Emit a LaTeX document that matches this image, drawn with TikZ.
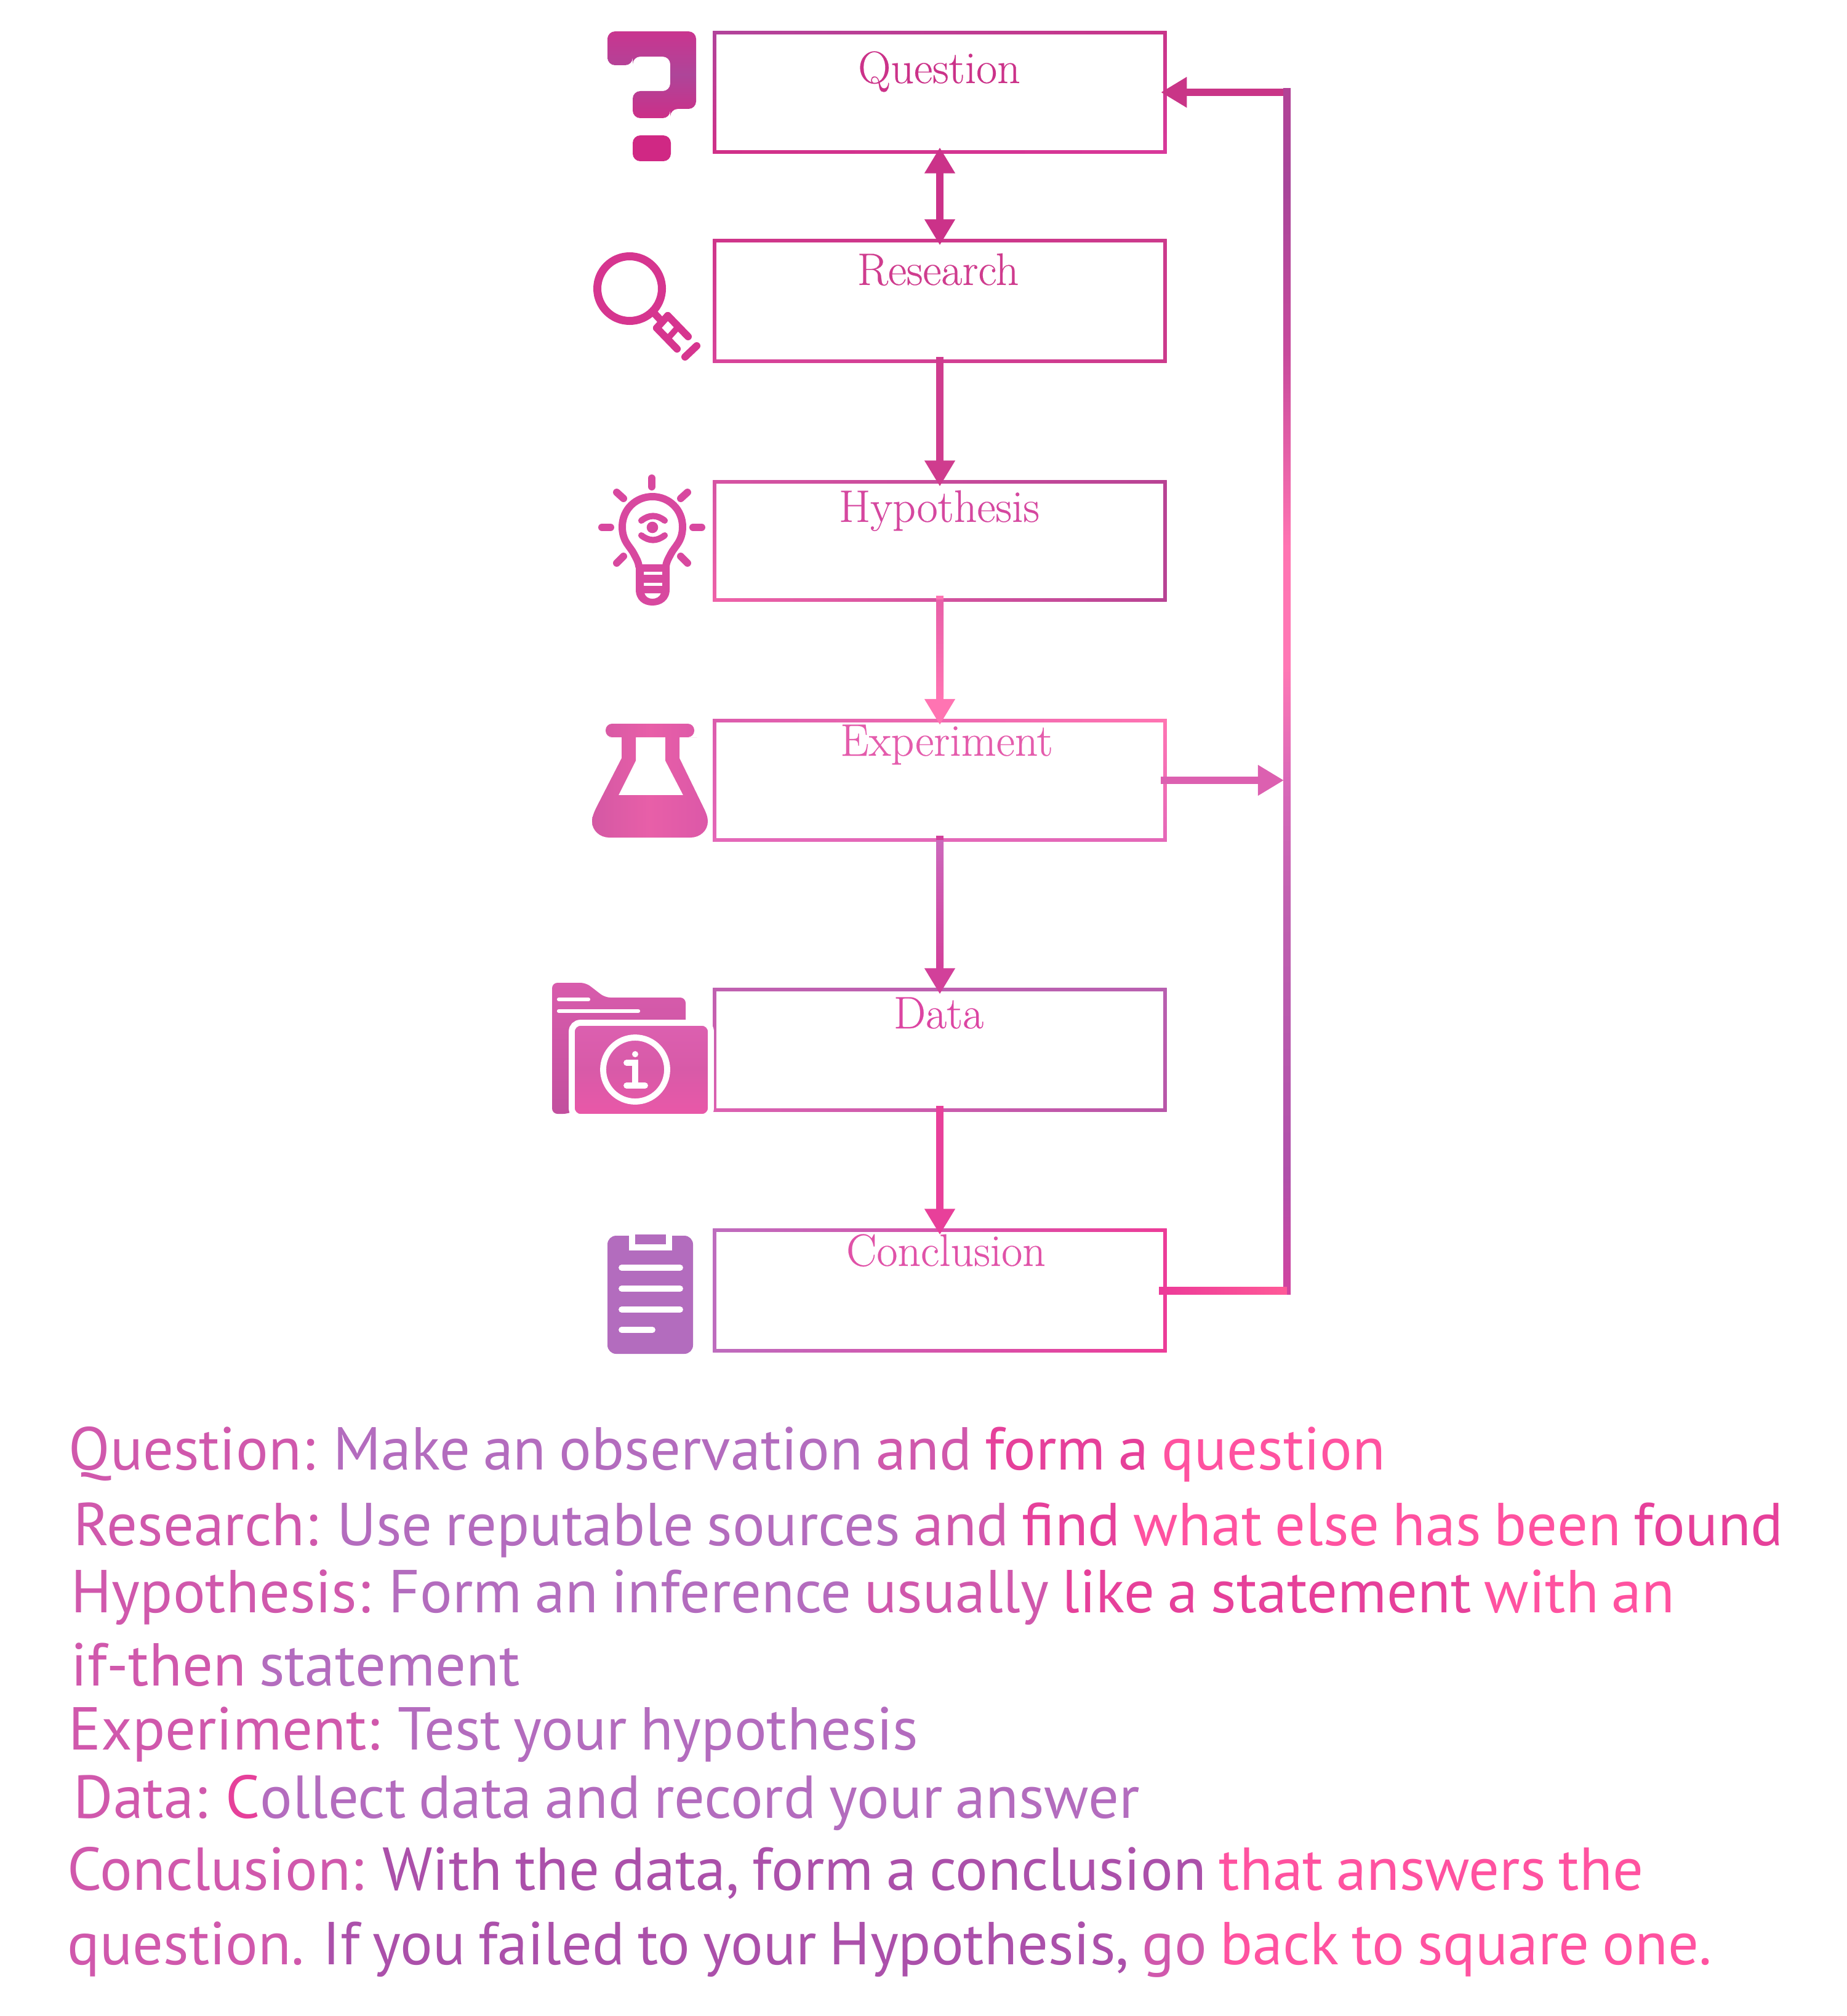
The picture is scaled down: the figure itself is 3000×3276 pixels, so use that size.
\documentclass[tikz,border=0pt]{standalone}
\usepackage{fontspec}
\newfontfamily\notefont[WordSpace=0.8]{PT Sans}
\newfontfamily\titlefont[FakeBold=0.3]{Latin Modern Roman}
\usetikzlibrary{arrows.meta,calc}

\definecolor{notemauve}{HTML}{B36CBE}
\definecolor{notedusk}{HTML}{AB50AA}
\definecolor{noteorchid}{HTML}{D058AC}
\definecolor{notemagenta}{HTML}{E6409A}
\definecolor{notepink}{HTML}{FF52A0}
\definecolor{loopcol}{HTML}{C93587}
\definecolor{questioncol}{HTML}{CB3289}
\definecolor{researchcol}{HTML}{CF3C8E}
\definecolor{hypothesiscol}{HTML}{D5479F}
\definecolor{experimentcol}{HTML}{E45CAC}
\definecolor{datacol}{HTML}{DC45A2}
\definecolor{conclusioncol}{HTML}{E052A8}
\definecolor{lightpink}{HTML}{FF74B2}
\definecolor{midpink}{HTML}{E85FA8}
\definecolor{datapink}{HTML}{D2409A}
\definecolor{paleorchid}{HTML}{CC68BC}
\definecolor{hotpink}{HTML}{E8409A}
\definecolor{sideorchid}{HTML}{DC60B0}
\definecolor{hotstart}{HTML}{EC3A98}
\definecolor{hotend}{HTML}{FF5A98}
\definecolor{marktop}{HTML}{C9358F}
\definecolor{markmid}{HTML}{AE4599}
\definecolor{markend}{HTML}{CC2F88}
\definecolor{markdot}{HTML}{D02884}
\definecolor{lenscol}{HTML}{D6358F}
\definecolor{bulbcol}{HTML}{D8489F}
\definecolor{flaskleft}{HTML}{D458A4}
\definecolor{flaskright}{HTML}{DC58A8}
\definecolor{foldertop}{HTML}{D85CAC}
\definecolor{folderend}{HTML}{C24F9E}
\definecolor{frontmid}{HTML}{D85AA8}
\definecolor{frontend}{HTML}{EA58A8}

\pgfdeclareverticalshading{feedbackfade}{100bp}{
  rgb(0bp)=(1,.314,.565);
  rgb(15bp)=(.973,.263,.604);
  rgb(23bp)=(.878,.243,.612);
  rgb(30bp)=(.69,.314,.667);
  rgb(41bp)=(.753,.376,.69);
  rgb(46bp)=(.847,.408,.722);
  rgb(51bp)=(1,.471,.71);
  rgb(56bp)=(1,.455,.698);
  rgb(64bp)=(.784,.29,.612);
  rgb(71bp)=(.659,.271,.604);
  rgb(85bp)=(.8,.227,.549);
  rgb(100bp)=(.788,.208,.529)}

\newcommand{\gradframe}[5]{
  \definecolor{frametl}{HTML}{#2}\definecolor{frametr}{HTML}{#3}
  \definecolor{framebl}{HTML}{#4}\definecolor{framebr}{HTML}{#5}
  \shade[top color=frametl,bottom color=framebl] ($(#1.north west)+(-2.5,-2.5)$) rectangle ($(#1.south west)+(2.5,2.5)$);
  \shade[top color=frametr,bottom color=framebr] ($(#1.north east)+(-2.5,-2.5)$) rectangle ($(#1.south east)+(2.5,2.5)$);
  \shade[left color=frametl,right color=frametr] ($(#1.north west)+(-2.5,-2.5)$) rectangle ($(#1.north east)+(2.5,2.5)$);
  \shade[left color=framebl,right color=framebr] ($(#1.south west)+(-2.5,-2.5)$) rectangle ($(#1.south east)+(2.5,2.5)$);
}

\begin{document}
\begin{tikzpicture}[
    x=0.01cm, y=-0.01cm,
    stepbox/.style={minimum width=7.32cm, line width=1.4pt, inner sep=0pt, outer sep=0pt},
    boxlabel/.style={anchor=base, inner sep=0pt, font=\titlefont\fontsize{21}{25}\selectfont},
    flow/.style={line width=3.3pt, -{Triangle[width=13.4pt,length=12pt]}, shorten >=-2pt, shorten <=-2pt},
    note/.style={anchor=base west, inner sep=0pt, font=\notefont\fontsize{28}{34}\selectfont},
    icontick/.style={line width=3.4pt, line cap=round},
    whitetick/.style={white, line width=2.8pt, line cap=round},
]
\useasboundingbox (0,0) rectangle (3000,3276);

% --- Boxes ---
\node[stepbox, draw=questioncol, minimum height=1.93cm] (question) at (1527,150) {};
\node[stepbox, draw=researchcol, minimum height=1.95cm] (research) at (1527,489) {};
\node[stepbox, draw=hypothesiscol, minimum height=1.91cm] (hypothesis) at (1527,879) {};
\node[stepbox, draw=experimentcol, minimum height=1.94cm] (experiment) at (1527,1268) {};
\node[stepbox, draw=datacol, minimum height=1.95cm] (datastep) at (1527,1706) {};
\node[stepbox, draw=conclusioncol, minimum height=1.95cm] (conclusion) at (1527,2097) {};

\gradframe{question}{B2439B}{C9358A}{D03088}{D8389A}
\gradframe{research}{CF358A}{CC3A8C}{D8449A}{CC3A8C}
\gradframe{hypothesis}{D654A3}{B84394}{EE62A8}{B84394}
\gradframe{experiment}{DC5CAD}{FF74B2}{E468B8}{E468B8}
\gradframe{datastep}{C060B0}{B860B0}{DC60B0}{B856A8}
\gradframe{conclusion}{BE6CBE}{EC3C98}{BE6CBE}{EC3C98}

% --- Box titles ---
\node[boxlabel, text=questioncol] (questionlabel) at (1526,135) {Question};
\node[boxlabel, text=researchcol] (researchlabel) at (1524,463) {Research};
\node[boxlabel, text=hypothesiscol] (hypothesislabel) at (1526,848) {Hypothesis};
\node[boxlabel, text=experimentcol] (experimentlabel) at (1538,1228) {Experiment};
\node[boxlabel, text=datacol] (datalabel) at (1525,1671) {Data};
\node[boxlabel, text=conclusioncol] (conclusionlabel) at (1537,2057) {Conclusion};

% --- Arrows down the column ---
\draw[flow, {Triangle[width=13.4pt,length=12pt]}-{Triangle[width=13.4pt,length=12pt]}, questioncol] (question.south) -- (research.north);
\draw[flow, researchcol] (research.south) -- (hypothesis.north);
\draw[flow, lightpink] (hypothesis.south) -- (experiment.north);
\shade[top color=midpink, bottom color=lightpink] ($(hypothesis.south)+(-6,0)$) rectangle ($(experiment.north)+(6,-38)$);
\draw[flow, datapink] (experiment.south) -- (datastep.north);
\shade[top color=paleorchid, bottom color=datapink] ($(experiment.south)+(-6,0)$) rectangle ($(datastep.north)+(6,-38)$);
\draw[flow, hotpink] (datastep.south) -- (conclusion.north);

% --- Feedback loop ---
\coordinate (looplow) at (2091,2097);
\coordinate (loophigh) at (2091,150);
\coordinate (loopjoin) at (2079,1268);
\draw[flow, loopcol] (conclusion.east) -- (looplow) -- (loophigh) -- (question.east);
\shade[shading=feedbackfade] ($(loophigh)+(-6,-6)$) rectangle ($(looplow)+(6,6)$);
\shade[left color=hotstart, right color=hotend] ($(conclusion.east)+(-10,-6)$) rectangle ($(looplow)+(0,6)$);
\draw[flow, sideorchid] (experiment.east) -- (loopjoin);

% --- Icon: question mark ---
\shade[top color=marktop, bottom color=markend, middle color=markmid, rounded corners=3.5pt]
    (987,51) -- (1131,51) -- (1131,177) -- (1089,177) -- (1089,192) -- (1028,192) -- (1028,148)
    -- (1089,148) -- (1089,92) -- (1028,92) -- (1028,106) -- (987,106) -- cycle;
\fill[markdot, rounded corners=3.5pt] (1028,220) rectangle (1090,262);

% --- Icon: magnifier ---
\begin{scope}[lenscol, icontick]
\draw[line width=3.7pt] (1023,469) circle (52.5);
\draw[line cap=butt] (1062,508) -- (1078,525);
\draw (1085,513) -- (1118,547);
\draw (1067,533) -- (1100,567);
\draw (1085,513) -- (1067,533);
\draw[line width=2.8pt, line cap=butt] (1103,530) -- (1086,549);
\draw (1132,562) -- (1113,580);
\end{scope}

% --- Icon: bulb ---
\begin{scope}[bulbcol, icontick]
\draw (1011,856) .. controls (1011,880) and (1024,888) .. (1030,900) .. controls (1034,908) and (1037,912) .. (1038,920);
\draw (1011,856) .. controls (1011,828) and (1033,807) .. (1060,807)
    .. controls (1087,807) and (1109,828) .. (1109,856)
    .. controls (1109,880) and (1096,888) .. (1090,900) .. controls (1086,908) and (1083,912) .. (1082,920);
\fill[even odd rule] (1033,917) -- (1033,958) .. controls (1033,975) and (1045,984) .. (1060,984)
    .. controls (1075,984) and (1088,975) .. (1088,958) -- (1088,917) -- cycle
    (1046,929) rectangle (1076,934) (1046,947) rectangle (1076,952)
    (1047,964) -- (1074,964) .. controls (1072,970) and (1066,973) .. (1060,973)
    .. controls (1054,973) and (1049,970) .. (1047,964);
\draw (1059,777) -- (1059,791);
\draw (978,857) -- (992,857) (1126,857) -- (1140,857);
\draw (1002,800) -- (1013,810) (1117,800) -- (1106,810);
\draw (1013,904) -- (1002,915) (1106,904) -- (1117,915);
\fill (1060,857) circle (9.3);
\draw[line width=2.9pt] (1042,846) .. controls (1055,836) and (1067,836) .. (1080,846);
\draw[line width=2.9pt] (1042,870) .. controls (1055,880) and (1067,880) .. (1080,870);
\end{scope}

% --- Icon: flask ---
\shade[left color=flaskleft, right color=flaskright, middle color=midpink, even odd rule]
    (1010,1232) -- (1010,1198) -- (990,1198) [rounded corners=3pt] -- (984,1198) -- (984,1176)
    -- (1128,1176) -- (1128,1198) -- (1122,1198) [sharp corners] -- (1104,1198) -- (1104,1232)
    -- (1142,1310) .. controls (1148,1322) and (1150,1328) .. (1150,1335)
    .. controls (1150,1350) and (1137,1361) .. (1122,1361) -- (990,1361)
    .. controls (975,1361) and (962,1350) .. (962,1335) .. controls (962,1328) and (964,1322) .. (970,1310) -- cycle
    (1033,1198) -- (1081,1198) -- (1081,1236) -- (1110,1292) -- (1005,1292) -- (1033,1236) -- cycle;

% --- Icon: folder ---
\shade[top color=foldertop, bottom color=folderend, rounded corners=2.5pt]
    (897,1597) -- (952,1597) -- (983,1621) -- (1114,1621) -- (1114,1700) -- (924,1810) -- (897,1810) -- cycle;
\draw[whitetick, line width=1.8pt] (908,1624) -- (956,1624) (908,1643) -- (1037,1643);
\shade[top color=sideorchid, bottom color=frontend, middle color=frontmid, draw=white, line width=2.8pt, rounded corners=4pt]
    (929,1662) rectangle (1155,1815);
\draw[white, line width=2.8pt] (1032,1738) circle (52);
\fill[white] (1032,1713) circle (5);
\draw[whitetick] (1018,1727) -- (1032,1727) -- (1032,1764) (1018,1764) -- (1048,1764);

% --- Icon: clipboard ---
\fill[notemauve, rounded corners=4pt] (987,2008) rectangle (1126,2200);
\fill[white] (1022,2006) rectangle (1092,2032);
\fill[notemauve] (1032,2006) rectangle (1082,2022);
\draw[whitetick] (1010,2060) -- (1105,2060) (1010,2094) -- (1105,2094) (1010,2128) -- (1105,2128) (1010,2161) -- (1060,2161);

% --- Notes below ---
\node[note] (noteone) at (111,2388) {\textcolor{noteorchid}{Question:} \textcolor{notemauve}{Make an observation} \textcolor{noteorchid}{and} \textcolor{notemagenta}{form a} \textcolor{notepink}{question}};
\node[note] (notetwo) at (119,2511) {\textcolor{noteorchid}{Research:} \textcolor{notemauve}{Use reputable sources} \textcolor{noteorchid}{and} \textcolor{notemagenta}{find} \textcolor{notepink}{what else has been} \textcolor{notemagenta}{found}};
\node[note] (notethree) at (115,2620) {\textcolor{noteorchid}{Hypothesis:} \textcolor{notemauve}{Form an inference} \textcolor{noteorchid}{usually} \textcolor{notemagenta}{like a statement} \textcolor{notepink}{with an}};
\node[note] (notefour) at (115,2739) {\textcolor{noteorchid}{if-then} \textcolor{notemauve}{statement}};
\node[note] (notefive) at (111,2843) {\textcolor{noteorchid}{Experiment:} \textcolor{notemauve}{Test your hypothesis}};
\node[note] (notesix) at (119,2954) {\textcolor{noteorchid}{Data:} \textcolor{notemagenta}{C}\textcolor{notemauve}{ollect data and record your answer}};
\node[note] (noteseven) at (109,3071) {\textcolor{noteorchid}{Conclusion:} \textcolor{notedusk}{With the data, form a conclusion} \textcolor{notepink}{that answers the}};
\node[note] (noteeight) at (109,3192) {\textcolor{noteorchid}{question.} \textcolor{notedusk}{If you failed to your Hypothesis,} \textcolor{noteorchid}{go} \textcolor{notepink}{back to square one.}};
\end{tikzpicture}
\end{document}
